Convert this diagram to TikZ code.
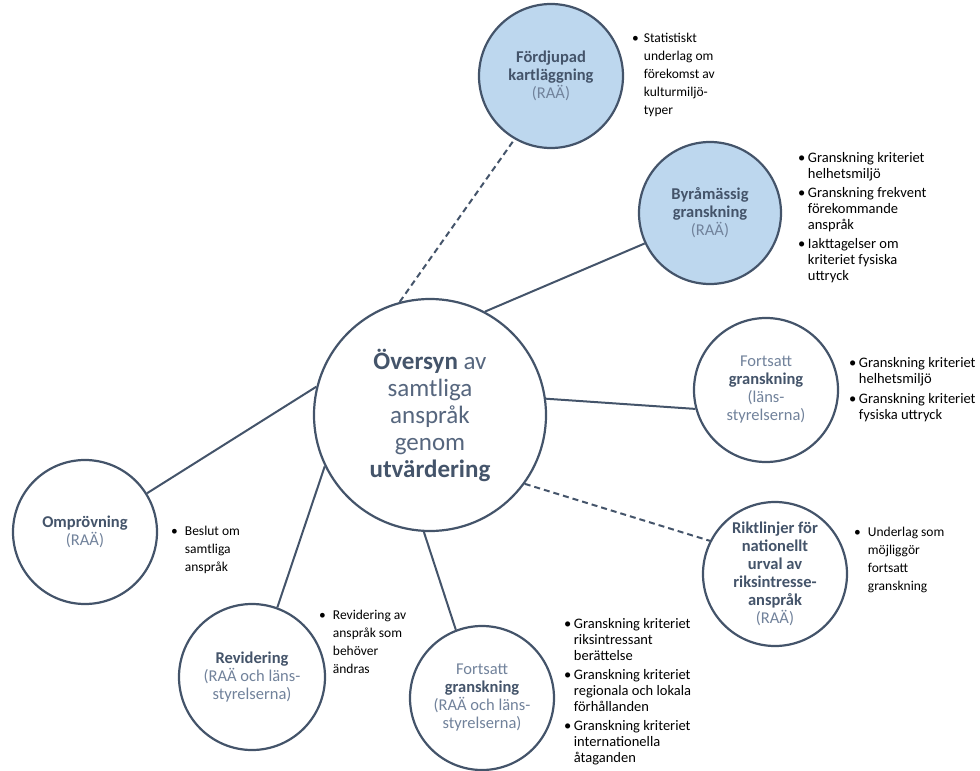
\documentclass[tikz,border=0pt]{standalone}
\usepackage{fontspec}
\setmainfont{Carlito}
\usepackage{xcolor}
\usepackage{tikz}
\usetikzlibrary{shapes,positioning,calc}
\definecolor{slate}{HTML}{44546A}
\definecolor{slatelt}{HTML}{71829B}
\definecolor{slatemid}{HTML}{56667E}
\definecolor{paleblue}{HTML}{BDD7EE}
\newcommand{\soft}[1]{\textcolor{slatelt}{#1}}
\newcommand{\midtone}[1]{\textcolor{slatemid}{#1}}
\newcommand{\titlesize}{\fontsize{16.5}{18}\selectfont}
\newcommand{\hubsize}{\fontsize{25}{27}\selectfont}
\newcommand{\loosesize}{\fontsize{13.5}{18}\selectfont}
\newcommand{\tightsize}{\fontsize{14.5}{16}\selectfont}
\tikzstyle{bubble} = [circle, draw=slate, line width=2.2pt, fill=white, minimum size=144pt, inner sep=0pt, align=center, text=slate, font=\titlesize]
\tikzstyle{filled} = [bubble, fill=paleblue]
\tikzstyle{hub} = [bubble, minimum size=232pt, font=\hubsize]
\tikzstyle{link} = [draw=slate, line width=2pt]
\tikzstyle{weak} = [link, dash pattern=on 6pt off 4pt]
\tikzstyle{loose} = [anchor=base west, inner sep=0pt, font=\loosesize]
\tikzstyle{tight} = [anchor=base west, inner sep=0pt, font=\tightsize]

\begin{document}
\begin{tikzpicture}[x=1pt,y=-1pt]
    \useasboundingbox (0,0) rectangle (980,771);
    \node[hub] (ctr) at (430,415) {\textbf{Översyn} \midtone{av}\\\midtone{samtliga}\\\midtone{anspråk}\\\midtone{genom}\\\textbf{utvärdering}};
    \node[filled] (kart) at (551,76) {\textbf{Fördjupad}\\\textbf{kartläggning}\\\soft{(RAÄ)}};
    \node[filled, minimum size=142pt] (byra) at (710,213) {\textbf{Byråmässig}\\\textbf{granskning}\\\soft{(RAÄ)}};
    \node[bubble] (fortR) at (766,390) {\soft{Fortsatt}\\\textbf{granskning}\\\soft{(läns-}\\\soft{styrelserna)}};
    \node[bubble] (rikt) at (775,574) {\textbf{Riktlinjer för}\\\textbf{nationellt}\\\textbf{urval av}\\\textbf{riksintresse-}\\\textbf{anspråk}\\\soft{(RAÄ)}};
    \node[bubble] (ompr) at (85,532) {\textbf{Omprövning}\\\soft{(RAÄ)}};
    \node[bubble, minimum size=146pt] (revid) at (252,677) {\textbf{Revidering}\\\soft{(RAÄ och läns-}\\\soft{styrelserna)}};
    \node[bubble] (fortB) at (482,698) {\soft{Fortsatt}\\\textbf{granskning}\\\soft{(RAÄ och läns-}\\\soft{styrelserna)}};
    % connectors
    \draw[weak] (ctr.105) -- (kart.240);
    \draw[link] (ctr.62) -- (byra.205);
    \draw[link] (ctr.8) -- (fortR.195);
    \draw[weak] (ctr.-36) -- (rikt.153);
    \draw[link] (ctr.166) -- (ompr.32);
    \draw[link] (ctr.206) -- (revid.70);
    \draw[link] (ctr.267) -- (fortB.111);
    % bullet notes
    \node[loose] (kartnote) at (632,42) {\begin{tabular}[t]{@{}l@{\hspace{5pt}}l@{}}\textbullet & Statistiskt\\ & underlag om\\ & förekomst av\\ & kulturmiljö-\\ & typer\end{tabular}};
    \node[tight] (byranote) at (798,162) {\begin{tabular}[t]{@{}l@{\hspace{2.5pt}}l@{}}\textbullet & Granskning kriteriet\\ & helhetsmiljö\\[3pt]\textbullet & Granskning frekvent\\ & förekommande\\ & anspråk\\[3pt]\textbullet & Iakttagelser om\\ & kriteriet fysiska\\ & uttryck\end{tabular}};
    \node[tight] (fortRnote) at (849,367) {\begin{tabular}[t]{@{}l@{\hspace{2.5pt}}l@{}}\textbullet & Granskning kriteriet\\ & helhetsmiljö\\[4pt]\textbullet & Granskning kriteriet\\ & fysiska uttryck\end{tabular}};
    \node[loose] (riktnote) at (854,536) {\begin{tabular}[t]{@{}l@{\hspace{7pt}}l@{}}\textbullet & Underlag som\\ & möjliggör\\ & fortsatt\\ & granskning\end{tabular}};
    \node[loose] (omprnote) at (171,535) {\begin{tabular}[t]{@{}l@{\hspace{7pt}}l@{}}\textbullet & Beslut om\\ & samtliga\\ & anspråk\end{tabular}};
    \node[loose] (revidnote) at (319,619) {\begin{tabular}[t]{@{}l@{\hspace{7pt}}l@{}}\textbullet & Revidering av\\ & anspråk som\\ & behöver\\ & ändras\end{tabular}};
    \node[tight] (fortBnote) at (564,628) {\begin{tabular}[t]{@{}l@{\hspace{2.5pt}}l@{}}\textbullet & Granskning kriteriet\\ & riksintressant\\ & berättelse\\[3pt]\textbullet & Granskning kriteriet\\ & regionala och lokala\\ & förhållanden\\[3pt]\textbullet & Granskning kriteriet\\ & internationella\\ & åtaganden\end{tabular}};
\end{tikzpicture}
\end{document}
